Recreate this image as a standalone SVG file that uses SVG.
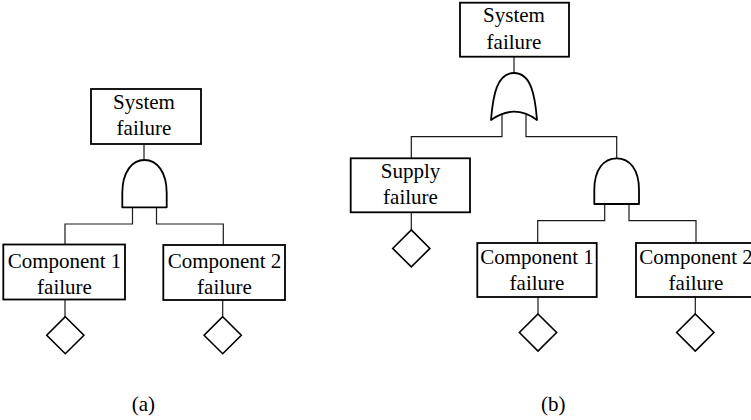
<svg xmlns="http://www.w3.org/2000/svg" width="751" height="420" viewBox="0 0 751 420">
  <style>
    .box { fill: #fff; stroke: #000; stroke-width: 1.8; }
    .gate { fill: #fff; stroke: #000; stroke-width: 1.8; stroke-linejoin: round; }
    .event { fill: #fff; stroke: #000; stroke-width: 1.6; }
    .wire { fill: none; stroke: #1a1a1a; stroke-width: 1.2; }
    .lbl { font-size: 21px; fill: #000; text-anchor: middle; }
  </style>
  <defs>
    <polygon id="basic" points="0,-18.5 18.6,0 0,18.5 -18.6,0"/>
  </defs>
  <rect width="751" height="420" fill="#fff"/>

  <!-- connectors -->
  <g id="connectors" class="wire">
    <!-- tree (a) -->
    <path d="M144,144 V160"/>
    <path d="M132.5,207 V224 H65 V244.5"/>
    <path d="M156.5,207 V224 H223.3 V245"/>
    <path d="M65,299.5 V316.7"/>
    <path d="M222.7,300 V316.7"/>
    <!-- tree (b) -->
    <path d="M514,56.7 V73"/>
    <path d="M502,114 V136.7 H411.3 V158.3"/>
    <path d="M526,114 V136.7 H616.7 V158.3"/>
    <path d="M411.3,212.3 V230"/>
    <path d="M604.7,204 V220.7 H537.7 V243"/>
    <path d="M629,204 V220.7 H696 V243"/>
    <path d="M538,297 V314"/>
    <path d="M695.3,297 V314"/>
  </g>

  <g font-family="Liberation Serif, DejaVu Serif, serif">
  <!-- tree (a) -->
  <g id="a-system">
    <rect class="box" x="91" y="89" width="110" height="55"/>
    <text class="lbl" x="144" y="108.5">System</text>
    <text class="lbl" x="144" y="135">failure</text>
  </g>
  <g id="a-and">
    <path class="gate" d="M122.3,207.3 V193 C122.3,172 132,160 144.5,160 C157,160 166.7,172 166.7,193 V207.3 Z"/>
  </g>
  <g id="a-comp1">
    <rect class="box" x="3.3" y="244.5" width="121.7" height="55"/>
    <text class="lbl" x="64.5" y="267.5">Component 1</text>
    <text class="lbl" x="64.5" y="293.5">failure</text>
  </g>
  <g id="a-comp2">
    <rect class="box" x="163.3" y="245" width="121.7" height="55"/>
    <text class="lbl" x="224.5" y="267.5">Component 2</text>
    <text class="lbl" x="224.5" y="293.5">failure</text>
  </g>
  <g id="a-basic1"><use href="#basic" class="event" x="65.3" y="335.2"/></g>
  <g id="a-basic2"><use href="#basic" class="event" x="222.7" y="335.2"/></g>

  <!-- tree (b) -->
  <g id="b-system">
    <rect class="box" x="460" y="2.7" width="109" height="54"/>
    <text class="lbl" x="514" y="22.3">System</text>
    <text class="lbl" x="514" y="49">failure</text>
  </g>
  <g id="b-or">
    <path class="gate" d="M491,120 C493,95 497,73 514,73 C531,73 535,95 537,120 Q514,103.4 491,120 Z"/>
  </g>
  <g id="b-supply">
    <rect class="box" x="350.7" y="158.3" width="119.3" height="54"/>
    <text class="lbl" x="410.5" y="177.5">Supply</text>
    <text class="lbl" x="410.5" y="203.5">failure</text>
  </g>
  <g id="b-basic-supply"><use href="#basic" class="event" x="411.3" y="248.4"/></g>
  <g id="b-and">
    <path class="gate" d="M594.3,204 V190 C594.3,169 604,158.3 616.7,158.3 C629.4,158.3 639,169 639,190 V204 Z"/>
  </g>
  <g id="b-comp1">
    <rect class="box" x="477.3" y="243" width="119.4" height="54"/>
    <text class="lbl" x="537" y="264">Component 1</text>
    <text class="lbl" x="537" y="290">failure</text>
  </g>
  <g id="b-comp2">
    <rect class="box" x="636" y="243" width="120" height="54"/>
    <text class="lbl" x="696" y="264">Component 2</text>
    <text class="lbl" x="696" y="290">failure</text>
  </g>
  <g id="b-basic1"><use href="#basic" class="event" x="538" y="332.5"/></g>
  <g id="b-basic2"><use href="#basic" class="event" x="695.3" y="332.5"/></g>

  <!-- captions -->
  <text class="lbl" x="143.4" y="410.5">(a)</text>
  <text class="lbl" x="553.3" y="410.5">(b)</text>
  </g>
</svg>
